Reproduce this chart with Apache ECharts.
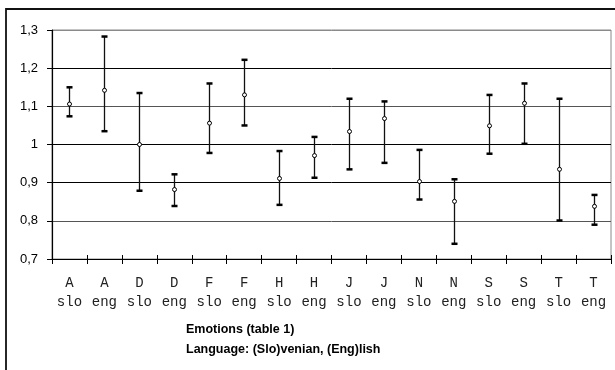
<!DOCTYPE html>
<html>
<head>
<meta charset="utf-8">
<script src="https://cdn.jsdelivr.net/npm/echarts@6/dist/echarts.min.js"></script>
<style>
  html, body { margin: 0; padding: 0; background: #fff; }
  #chart { width: 615px; height: 370px; }
</style>
</head>
<body>
<div id="chart"></div>
<script>
// Emotion codes and response language for each column
const emotions = ['A', 'A', 'D', 'D', 'F', 'F', 'H', 'H', 'J', 'J', 'N', 'N', 'S', 'S', 'T', 'T'];
const languages = ['slo', 'eng', 'slo', 'eng', 'slo', 'eng', 'slo', 'eng', 'slo', 'eng', 'slo', 'eng', 'slo', 'eng', 'slo', 'eng'];

// Mean and interval bounds per column
const means = [1.106, 1.142, 1.000, 0.882, 1.056, 1.130, 0.911, 0.971, 1.034, 1.068, 0.903, 0.851, 1.049, 1.108, 0.935, 0.838];
const lows  = [1.074, 1.035, 0.879, 0.839, 0.978, 1.050, 0.842, 0.913, 0.935, 0.952, 0.856, 0.740, 0.976, 1.002, 0.801, 0.790];
const highs = [1.150, 1.283, 1.135, 0.922, 1.160, 1.222, 0.983, 1.020, 1.120, 1.113, 0.986, 0.909, 1.130, 1.160, 1.120, 0.868];

// Value axis ticks
const yTickValues = [0.7, 0.8, 0.9, 1.0, 1.1, 1.2, 1.3];
const yTickLabels = ['0,7', '0,8', '0,9', '1', '1,1', '1,2', '1,3'];

const titleLines = ['Emotions (table 1)', 'Language: (Slo)venian, (Eng)lish'];

const categories = emotions.map((e, i) => e + '\n' + languages[i]);
const barData = means.map((m, i) => [i, lows[i], highs[i], m]);

// Vertical interval line with flat caps and a hollow marker at the mean
function renderBar(params, api) {
  const i = api.value(0);
  const lo = api.coord([i, api.value(1)]);
  const hi = api.coord([i, api.value(2)]);
  const mid = api.coord([i, api.value(3)]);
  const x = Math.round(lo[0]) + 0.5;
  const capW = 3;
  return {
    type: 'group',
    children: [
      { type: 'line', shape: { x1: x, y1: hi[1], x2: x, y2: lo[1] },
        style: { stroke: '#111', lineWidth: 1.3 } },
      { type: 'rect', shape: { x: x - capW, y: hi[1] - 1.2, width: capW * 2, height: 2.5 },
        style: { fill: '#000' } },
      { type: 'rect', shape: { x: x - capW, y: lo[1] - 1.2, width: capW * 2, height: 2.5 },
        style: { fill: '#000' } },
      { type: 'circle', shape: { cx: x, cy: mid[1], r: 2 },
        style: { fill: '#fff', stroke: '#000', lineWidth: 1 } }
    ]
  };
}

const chart = echarts.init(document.getElementById('chart'), null, { renderer: 'canvas' });
chart.setOption({
  animation: false,
  backgroundColor: '#fff',
  title: {
    text: titleLines.join('\n'),
    left: 181,
    top: 315,
    textStyle: {
      fontFamily: 'Liberation Sans, Arial, sans-serif',
      fontSize: 12.5,
      fontWeight: 'bold',
      color: '#000',
      lineHeight: 20
    }
  },
  grid: {
    left: 52, right: 4, top: 30, bottom: 111,
    show: true,
    borderColor: '#8a8a8a',
    borderWidth: 1,
    backgroundColor: 'transparent'
  },
  xAxis: [
    {
      type: 'category',
      data: categories,
      boundaryGap: true,
      axisLine: { show: true, lineStyle: { color: '#000', width: 1.2 } },
      axisTick: { show: true, length: 5, lineStyle: { color: '#000', width: 1 } },
      axisLabel: {
        interval: 0,
        margin: 15,
        fontFamily: 'Liberation Mono, Courier New, monospace',
        fontSize: 14,
        lineHeight: 19,
        color: '#222'
      }
    },
    {
      type: 'category',
      data: categories,
      position: 'bottom',
      boundaryGap: true,
      axisLine: { show: false },
      axisTick: { show: true, inside: true, length: 4, lineStyle: { color: '#000', width: 1 } },
      axisLabel: { show: false }
    }
  ],
  yAxis: {
    type: 'value',
    min: yTickValues[0],
    max: yTickValues[yTickValues.length - 1],
    interval: 0.1,
    axisLine: { show: true, lineStyle: { color: '#000', width: 1.2 } },
    axisTick: { show: true, length: 5, lineStyle: { color: '#000' } },
    axisLabel: {
      margin: 14,
      fontFamily: 'Liberation Sans, Arial, sans-serif',
      fontSize: 13,
      color: '#000',
      formatter: v => {
        const k = Math.round((v - yTickValues[0]) / 0.1);
        return yTickLabels[k] !== undefined ? yTickLabels[k] : '';
      }
    },
    splitLine: {
      show: true,
      lineStyle: { color: ['#000', '#555', '#000', '#000', '#555', '#000', '#8a8a8a'], width: 1 }
    }
  },
  series: [{
    type: 'custom',
    renderItem: renderBar,
    encode: { x: 0, y: [1, 2, 3] },
    data: barData,
    clip: false,
    z: 5
  }],
  graphic: [{
    type: 'rect',
    shape: { x: 6, y: 9, width: 640, height: 420 },
    style: { fill: 'none', stroke: '#111', lineWidth: 1.8 },
    silent: true,
    z: 10
  }]
});
</script>
</body>
</html>
